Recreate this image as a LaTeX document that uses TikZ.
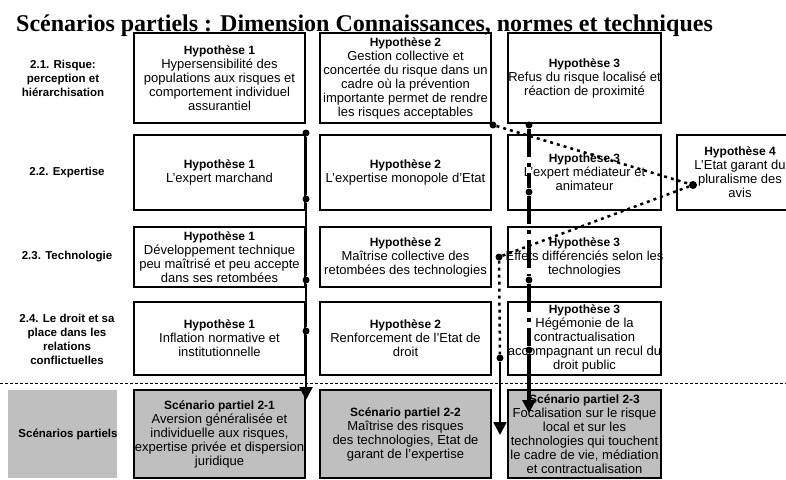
\documentclass[tikz,border=0pt]{standalone}
\usepackage{fontspec}
\setmainfont{Liberation Sans}
\newfontfamily\titlefont{Liberation Serif}
\usetikzlibrary{arrows.meta}
\newcommand{\hd}[1]{{\bfseries\fontsize{12}{14}\selectfont #1}}

\begin{document}
\begin{tikzpicture}[x=1pt, y=-1pt,
  box/.style={draw=black, line width=1.5pt, inner sep=0pt},
  scen/.style={box, fill=gray!50},
  c1/.style={minimum width=171pt}, c2/.style={minimum width=171pt},
  c3/.style={minimum width=153pt}, c4/.style={minimum width=126pt},
  r1/.style={minimum height=90pt}, r2/.style={minimum height=75pt},
  r3/.style={minimum height=60pt}, r4/.style={minimum height=73pt},
  r5/.style={minimum height=88pt},
  txt/.style={align=center, inner sep=0pt, font=\fontsize{13}{14}\selectfont},
  lab/.style={align=center, inner sep=0pt, font=\bfseries\fontsize{11.5}{14}\selectfont},
  dot/.style={shape=circle, fill=black, inner sep=0pt, minimum size=7pt},
  tip/.style={-{Triangle[width=13pt,length=13pt]}}]
\useasboundingbox (0,0) rectangle (786,479);

\node[anchor=base west, inner sep=0pt, font=\titlefont\bfseries\fontsize{24}{28}\selectfont] (titre) at (16,31) {Scénarios partiels : Dimension Connaissances, normes et techniques};

% libelles des lignes
\node[lab] (l1) at (63,78) {2.1. Risque:\\perception et\\hiérarchisation};
\node[lab] (l2) at (67,172.5) {2.2. Expertise};
\node[lab] (l3) at (67,257) {2.3. Technologie};
\node[lab] (l4) at (67,339) {2.4. Le droit et sa\\place dans les\\relations\\conflictuelles};
\node[fill=gray!50, inner sep=0pt, minimum width=109pt, minimum height=88pt] (g) at (62.5,434) {};
\node[lab] (l5) at (68,434) {Scénarios partiels};

% cadres
\node[box, c1, r1] (b11) at (219.5,78) {};
\node[box, c2, r1] (b12) at (405.5,78) {};
\node[box, c3, r1] (b13) at (584.5,78) {};
\node[box, c1, r2] (b21) at (219.5,172.5) {};
\node[box, c2, r2] (b22) at (405.5,172.5) {};
\node[box, c3, r2] (b23) at (584.5,172.5) {};
\node[box, c4, r2] (b24) at (740,172.5) {};
\node[box, c1, r3] (b31) at (219.5,257) {};
\node[box, c2, r3] (b32) at (405.5,257) {};
\node[box, c3, r3] (b33) at (584.5,257) {};
\node[box, c1, r4] (b41) at (219.5,338.5) {};
\node[box, c2, r4] (b42) at (405.5,338.5) {};
\node[box, c3, r4] (b43) at (584.5,338.5) {};
\node[scen, c1, r5] (s1) at (219.5,434) {};
\node[scen, c2, r5] (s2) at (405.5,434) {};
\node[scen, c3, r5] (s3) at (584.5,434) {};

\draw[line width=0.5pt, dash pattern=on 3pt off 2pt] (0,383) -- (786,383);

% textes
\node[txt] (h11) at (b11) {\hd{Hypothèse 1}\\Hypersensibilité des\\populations aux risques et\\comportement individuel\\assurantiel};
\node[txt] (h12) at (b12) {\hd{Hypothèse 2}\\Gestion collective et\\concertée du risque dans un\\cadre où la prévention\\importante permet de rendre\\les risques acceptables};
\node[txt] (h13) at (b13) {\hd{Hypothèse 3}\\Refus du risque localisé et\\réaction de proximité};
\node[txt] (h21) at (b21) {\hd{Hypothèse 1}\\L’expert marchand};
\node[txt] (h22) at (b22) {\hd{Hypothèse 2}\\L’expertise monopole d’Etat};
\node[txt] (h23) at (b23) {\hd{Hypothèse 3}\\L’expert médiateur et\\animateur};
\node[txt] (h24) at (b24) {\hd{Hypothèse 4}\\L’Etat garant du\\pluralisme des\\avis};
\node[txt] (h31) at (b31) {\hd{Hypothèse 1}\\Développement technique\\peu maîtrisé et peu accepte\\dans ses retombées};
\node[txt] (h32) at (b32) {\hd{Hypothèse 2}\\Maîtrise collective des\\retombées des technologies};
\node[txt] (h33) at (b33) {\hd{Hypothèse 3}\\Effets différenciés selon les\\technologies};
\node[txt] (h41) at (b41) {\hd{Hypothèse 1}\\Inflation normative et\\institutionnelle};
\node[txt] (h42) at (b42) {\hd{Hypothèse 2}\\Renforcement de l’Etat de\\droit};
\node[txt] (h43) at (b43) {\hd{Hypothèse 3}\\Hégémonie de la\\contractualisation\\accompagnant un recul du\\droit public};
\node[txt] (t1) at (s1) {\hd{Scénario partiel 2-1}\\Aversion généralisée et\\individuelle aux risques,\\expertise privée et dispersion\\juridique};
\node[txt] (t2) at (s2) {\hd{Scénario partiel 2-2}\\Maîtrise des risques\\des technologies, Etat de\\garant de l'expertise};
\node[txt] (t3) at (s3) {\hd{Scénario partiel 2-3}\\Focalisation sur le risque\\local et sur les\\technologies qui touchent\\le cadre de vie, médiation\\et contractualisation};

% parcours 2-1
\node[dot] (x1) at (306,133) {};
\node[dot] (x2) at (306,199) {};
\node[dot] (x3) at (306,280) {};
\node[dot] (x4) at (306,331) {};
\coordinate (xe) at (306,400);
\path [line width=2.5pt, draw=black] (x1) edge (x2) (x2) edge (x3) (x3) edge (x4);
\path [tip, line width=2.5pt, draw=black] (x4) edge (xe);

% parcours 2-2
\node[dot] (y1) at (493,125) {};
\node[dot, minimum size=8pt] (y2) at (693,185) {};
\node[dot] (y3) at (499,257) {};
\node[dot] (y4) at (500,358) {};
\coordinate (ye) at (500,435);
\path [line width=2.5pt, dash pattern=on 3pt off 4pt, draw=black] (y1) edge (y2) (y2) edge (y3) (y3) edge (y4);
\path [tip, line width=2.5pt, draw=black] (y4) edge (ye);

% parcours 2-3
\node[dot] (z1) at (529,125) {};
\node[dot] (z2) at (529,192) {};
\node[dot] (z3) at (529,280) {};
\node[dot] (z4) at (529,350) {};
\coordinate (ze) at (529,413);
\path [line width=4pt, dash pattern=on 28pt off 6pt on 4pt off 6pt, draw=black] (z1) edge (z2) (z2) edge (z3) (z3) edge (z4);
\path [tip, line width=4pt, draw=black] (z4) edge (ze);
\end{tikzpicture}
\end{document}
